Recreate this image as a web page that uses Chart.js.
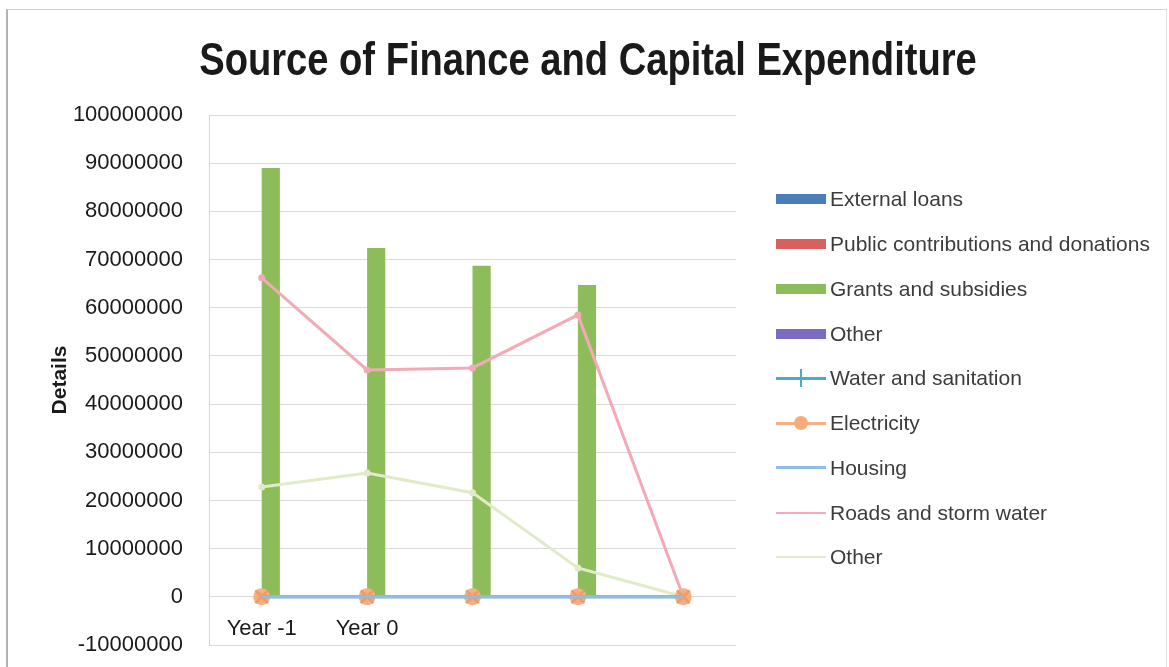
<!DOCTYPE html>
<html>
<head>
<meta charset="utf-8">
<title>Source of Finance and Capital Expenditure</title>
<script src="https://cdn.jsdelivr.net/npm/chart.js@4.4.1/dist/chart.umd.min.js"></script>
<style>
    html, body { margin: 0; padding: 0; background: #fff; }
    body {
        width: 1169px; height: 667px; position: relative; overflow: hidden;
        font-family: "Liberation Sans", Arial, sans-serif;
    }
    .frame {
        position: absolute; left: 6px; top: 9px; width: 1158px; height: 700px;
        border-top: 1px solid #d0d0d0; border-left: 2px solid #b3b3b3; border-right: 1px solid #e3e3e3;
    }
    #financeChart { position: absolute; left: 0; top: 0; }
    .chart-title {
        position: absolute; left: 0; top: 36px; width: 1176px;
        text-align: center; font-weight: bold; font-size: 46.5px; line-height: 1;
        color: #1a1a1a; white-space: nowrap;
        transform: scaleX(0.82); transform-origin: 588px 0;
    }
    .legend { position: absolute; left: 776px; top: 177px; }
    .legend-item { height: 44.75px; display: flex; align-items: center; }
    .legend-key { position: relative; width: 50px; height: 14px; }
    .legend-box { position: absolute; left: 0; top: 2px; width: 50px; height: 10px; }
    .legend-line { position: absolute; left: 0; width: 50px; }
    .legend-marker { position: absolute; }
    .legend-label { margin-left: 4px; font-size: 21px; color: #3c3c3c; white-space: nowrap; }
</style>
</head>
<body>
<div class="frame"></div>
<canvas id="financeChart" width="1169" height="667"></canvas>
<div class="chart-title">Source of Finance and Capital Expenditure</div>
<div class="legend" id="financeLegend"></div>

<script>
// Categories and series
const categories = ['Year -1', 'Year 0', '', '', ''];

// Source of finance (bars)
const externalLoans        = [0, 0, 0, 0, 0];
const publicContributions  = [0, 0, 0, 0, 0];
const grantsAndSubsidies   = [89000000, 72400000, 68700000, 64700000, 0];
const otherFinance         = [0, 0, 0, 0, 0];

// Capital expenditure (lines)
const waterAndSanitation   = [0, 0, 0, 0, 0];
const electricity          = [0, 0, 0, 0, 0];
const housing              = [0, 0, 0, 0, 0];
const roadsAndStormWater   = [66200000, 47100000, 47500000, 58500000, 0];
const otherExpenditure     = [22800000, 25700000, 21600000, 6000000, 0];

// Value axis
const yMin = -10000000;
const yMax = 100000000;
const yStep = 10000000;

const FONT = '"Liberation Sans", Arial, sans-serif';

const datasets = [
    { type: 'bar', label: 'External loans', data: externalLoans, backgroundColor: '#4a7ebb', order: 1 },
    { type: 'bar', label: 'Public contributions and donations', data: publicContributions, backgroundColor: '#d9605e', order: 1 },
    { type: 'bar', label: 'Grants and subsidies', data: grantsAndSubsidies, backgroundColor: '#8cbd5a', order: 1 },
    { type: 'bar', label: 'Other', data: otherFinance, backgroundColor: '#7d6bc2', order: 1 },
    {
        type: 'line', label: 'Water and sanitation', data: waterAndSanitation,
        borderColor: '#4bacc6', backgroundColor: '#4bacc6', borderWidth: 3,
        pointStyle: 'crossRot', pointRadius: 9, pointBorderWidth: 2.5, pointBorderColor: '#ee9b68', order: -1
    },
    {
        type: 'line', label: 'Electricity', data: electricity,
        borderColor: '#f4b183', backgroundColor: '#f6ab7a', borderWidth: 3,
        pointStyle: 'circle', pointRadius: 7, pointBorderColor: '#f3b184', order: 0
    },
    {
        type: 'line', label: 'Housing', data: housing,
        borderColor: '#8fbde8', backgroundColor: '#8fbde8', borderWidth: 3,
        pointRadius: 0, order: -2
    },
    {
        type: 'line', label: 'Roads and storm water', data: roadsAndStormWater,
        borderColor: '#f4a9b6', backgroundColor: '#f4a9b6', borderWidth: 3,
        pointRadius: 2, order: 0
    },
    {
        type: 'line', label: 'Other', data: otherExpenditure,
        borderColor: '#e0ebc8', backgroundColor: '#e0ebc8', borderWidth: 3,
        pointRadius: 2, order: 0
    }
];

const chart = new Chart(document.getElementById('financeChart'), {
    data: { labels: categories, datasets: datasets },
    options: {
        responsive: false,
        animation: false,
        devicePixelRatio: 1,
        layout: { padding: { left: 40, right: 433, top: 115, bottom: 22 } },
        datasets: {
            bar: { categoryPercentage: 0.69, barPercentage: 1.0 },
            line: { tension: 0 }
        },
        plugins: {
            legend: { display: false },
            tooltip: { enabled: false }
        },
        scales: {
            x: {
                position: { y: 0 },
                offset: true,
                grid: { display: false },
                border: { display: false },
                ticks: {
                    color: '#1a1a1a',
                    font: { family: FONT, size: 22 },
                    padding: 11,
                    maxRotation: 0,
                    autoSkip: false
                },
                // labels hang under the zero line, keep them out of the layout
                afterFit: (scale) => {
                    scale.height = 0;
                    scale.paddingTop = 0;
                    scale.paddingBottom = 0;
                }
            },
            y: {
                min: yMin,
                max: yMax,
                ticks: {
                    stepSize: yStep,
                    color: '#1a1a1a',
                    font: { family: FONT, size: 22 },
                    padding: 26,
                    callback: (value) => String(value)
                },
                grid: { color: '#dadada', drawTicks: false, lineWidth: 1 },
                border: { color: '#d6d6d6' },
                title: {
                    display: true,
                    text: 'Details',
                    color: '#1a1a1a',
                    font: { family: FONT, size: 21, weight: 'bold' },
                    padding: { top: 8, bottom: 0 }
                },
                afterFit: (scale) => {
                    scale.width = 169;
                    scale.paddingTop = 0;
                    scale.paddingBottom = 0;
                }
            }
        }
    }
});

// Custom legend built from the chart datasets
function buildLegend(chartRef) {
    const container = document.getElementById('financeLegend');
    container.innerHTML = chartRef.data.datasets.map(ds => {
        let key = '';
        if (ds.type === 'bar') {
            key = `<div class="legend-box" style="background:${ds.backgroundColor}"></div>`;
        } else {
            const thick = ds.label === 'Roads and storm water' || ds.label === 'Other' ? 2 : 3;
            key = `<div class="legend-line" style="top:${7 - thick / 2}px;height:${thick}px;background:${ds.borderColor}"></div>`;
            if (ds.pointStyle === 'circle') {
                key += `<div class="legend-marker" style="left:18px;top:0;width:14px;height:14px;border-radius:50%;background:${ds.backgroundColor}"></div>`;
            } else if (ds.pointStyle === 'crossRot') {
                key += `<div class="legend-marker" style="left:24px;top:-2px;width:2px;height:18px;background:${ds.borderColor}"></div>`;
            }
        }
        return `<div class="legend-item"><div class="legend-key">${key}</div><span class="legend-label">${ds.label}</span></div>`;
    }).join('');
}

buildLegend(chart);
</script>
</body>
</html>
